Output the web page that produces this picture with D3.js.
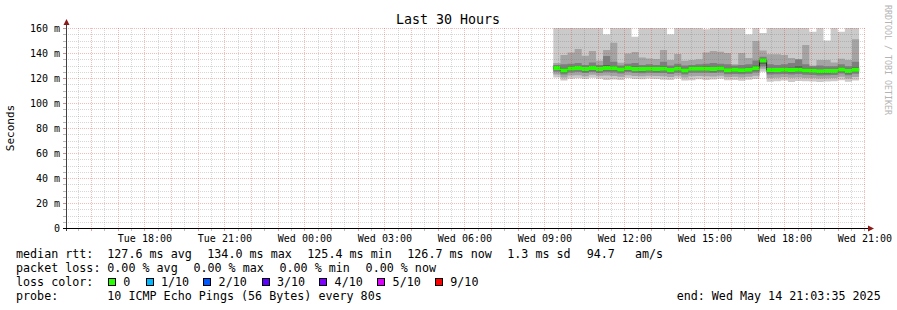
<!DOCTYPE html>
<html>
<head>
<meta charset="utf-8">
<script src="https://cdn.jsdelivr.net/npm/d3@7"></script>
<style>
  body { margin: 0; background: #fff; }
  svg { display: block; }
  text { font-family: "DejaVu Sans Mono", monospace; fill: #000; }
</style>
</head>
<body>
<div id="chart"></div>
<script>
// time window of the graph and the 16 minute bins that hold data
const windowStart = "2025-05-13T15:03:35";
const windowEnd = "2025-05-14T21:03:35";
const binStart = "2025-05-14T09:20:00";
const binMinutes = 16;

// median rtt per bin (ms)
const median = [128.0,126.0,127.6,128.0,127.2,128.0,127.2,128.0,127.8,126.9,128.0,127.3,127.2,127.4,127.2,127.4,126.4,127.4,126.0,127.4,127.4,127.5,127.2,127.6,126.2,126.6,126.2,126.7,127.9,134.0,126.4,126.4,126.6,126.4,126.6,126.0,125.9,125.4,125.6,125.6,126.9,125.6,126.7];

// sorted pings per bin (ms), outer to inner
const ping10 = [165,165,165,165,165,165,165,155,165,165,165,153,165,165,165,165,155,165,165,165,165,159,165,165,165,165,165,155,165,156,165,165,165,165,165,165,157,165,150,165,157,165,165];
const ping9 = [132,138.4,140.5,143.2,137.9,141.6,133.9,142.4,148.3,132.3,139.7,140.8,136.5,135.7,135.3,142.4,134.5,139.2,133.9,134.4,135,140.5,141.6,141,140,131,140,136,149.6,142,139,139,138.5,136,134,146.4,130,134.5,134.5,132.5,135.5,134.5,151];
const ping8 = [130.5,131,131.5,132,130.5,132.5,130.5,137.6,133,130,131.5,132,130.5,131,130.5,133,130,131.5,130,130.5,131,131.5,132,131.5,131,130,130.5,131,134,137,131,130.5,131,132,135,131,129.5,130,129.5,129.5,131,129.5,133];
const ping7 = [129.6,127.8,129.2,129.6,128.9,129.7,128.8,130.2,129.5,128.5,129.6,129.0,128.8,129.0,128.9,129.2,128.1,129.1,127.7,129.0,129.1,129.3,128.9,129.3,127.9,128.2,127.9,128.4,129.8,135.5,128.1,128.0,128.3,128.3,129.5,127.8,127.5,127.1,127.3,127.2,128.6,127.3,128.6];
const ping4 = [126.4,124.3,126.0,126.4,125.5,126.3,125.6,126.2,126.1,125.2,126.3,125.6,125.5,125.7,125.5,125.6,124.8,125.7,124.4,125.8,125.7,125.8,125.5,125.9,124.6,124.9,124.5,125.0,126.1,131.5,124.7,124.8,124.9,124.6,124.8,124.3,124.2,123.7,123.9,124.0,125.2,123.9,125.0];
const ping3 = [125.0,122.8,124.5,124.8,124.0,124.9,124.1,124.6,124.5,123.6,124.8,124.1,123.9,124.2,124.0,124.1,123.3,124.2,122.9,124.2,124.2,124.3,124.0,124.4,123.0,123.3,123.0,123.4,124.5,129.5,122.8,123.0,123.2,122.9,123.2,122.7,122.5,122.1,122.3,122.4,123.6,122.3,123.4];
const ping2 = [122.8,120.5,122.0,122.2,121.5,122.6,121.8,122.0,121.6,121.0,122.3,121.7,121.5,121.9,121.6,121.4,120.8,121.9,120.5,121.5,121.6,121.5,121.3,121.8,120.7,121.0,120.5,121.0,121.9,127.5,120.0,120.3,120.6,120.2,120.5,120.0,120.0,119.6,119.8,120.0,121.0,119.7,120.8];
const ping1 = [120.5,118.0,119.5,119.8,119.2,120.3,119.5,118.5,118.8,118.5,120.0,119.2,119.0,119.6,119.3,118.6,118.4,119.6,118.0,118.3,119.0,118.5,118.8,119.5,118.2,118.5,117.8,118.6,119.3,125.0,117.0,117.5,118.0,116.8,117.6,117.5,117.2,116.8,117.3,117.5,118.2,117.0,118.0];

// axes
const yTicks = [0, 20, 40, 60, 80, 100, 120, 140, 160];
const xTicks = ["2025-05-13T18:00","2025-05-13T21:00","2025-05-14T00:00","2025-05-14T03:00","2025-05-14T06:00","2025-05-14T09:00","2025-05-14T12:00","2025-05-14T15:00","2025-05-14T18:00","2025-05-14T21:00"];

// legend
const rttStats = ["127.6 ms avg", "134.0 ms max", "125.4 ms min", "126.7 ms now", "1.3 ms sd", "94.7", "am/s"];
const lossStats = ["0.00 % avg", "0.00 % max", "0.00 % min", "0.00 % now"];
const lossLabels = ["0", "1/10", "2/10", "3/10", "4/10", "5/10", "9/10"];
const lossColors = ["#26ff00", "#00b8ff", "#0059ff", "#5e00ff", "#7e00ff", "#dd00ff", "#ff0000"];

const width = 897, height = 310;
const plotLeft = 66, plotRight = 866, plotTop = 28, plotBottom = 228;

const svg = d3.select("#chart").append("svg")
  .attr("width", width)
  .attr("height", height);

svg.append("rect").attr("width", width).attr("height", height).attr("fill", "#fff");

const x = d3.scaleTime()
  .domain([new Date(windowStart), new Date(windowEnd)])
  .range([plotLeft, plotRight]);

const y = d3.scaleLinear()
  .domain([0, 160])
  .range([plotBottom, plotTop]);

const t0 = new Date(binStart);
const bins = median.map((m, i) => ({
  t: d3.timeMinute.offset(t0, i * binMinutes),
  med: m,
  p: [ping1[i], ping2[i], ping3[i], ping4[i], m, m, ping7[i], ping8[i], ping9[i], ping10[i]]
}));
// repeat the last bin at its end time so the step reaches the bin edge
const last = bins[bins.length - 1];
const steps = bins.concat([{ t: d3.timeMinute.offset(last.t, binMinutes), med: last.med, p: last.p }]);

svg.append("clipPath").attr("id", "plot")
  .append("rect").attr("x", plotLeft).attr("y", plotTop)
  .attr("width", plotRight - plotLeft).attr("height", plotBottom - plotTop);

const plot = svg.append("g").attr("clip-path", "url(#plot)");

// smoke: pairs of pings, darker towards the middle
const smokeColors = ["#cacaca", "#a4a4a4", "#7e7e7e", "#585858"];
smokeColors.forEach((c, k) => {
  plot.append("path")
    .datum(steps)
    .attr("fill", c)
    .attr("d", d3.area()
      .curve(d3.curveStepAfter)
      .x(d => x(d.t))
      .y0(d => y(d.p[k]))
      .y1(d => y(d.p[9 - k])));
});

// median line and loss coloured band
plot.append("path")
  .datum(steps)
  .attr("fill", "none")
  .attr("stroke", "#202020")
  .attr("stroke-width", 1)
  .attr("d", d3.line().curve(d3.curveStepAfter).x(d => x(d.t)).y(d => y(d.med)));

plot.append("path")
  .datum(steps)
  .attr("fill", lossColors[0])
  .attr("d", d3.area()
    .curve(d3.curveStepAfter)
    .x(d => x(d.t))
    .y0(d => y(d.med) + 2)
    .y1(d => y(d.med) - 2));

// grid on top
const minorY = d3.range(0, 161, 5).filter(v => v % 20 !== 0);
const hours = d3.timeHour.range(new Date(windowStart), new Date(windowEnd));
const halfHours = d3.timeMinute.every(30).range(new Date(windowStart), new Date(windowEnd))
  .filter(d => d.getMinutes() === 30);

const grid = svg.append("g");
const minorColor = "rgba(110,110,110,0.28)";
const majorColor = "rgba(225,40,40,0.32)";

grid.selectAll(".hmin").data(minorY).enter().append("line")
  .attr("x1", plotLeft).attr("x2", plotRight)
  .attr("y1", d => Math.round(y(d)) + 0.5).attr("y2", d => Math.round(y(d)) + 0.5)
  .attr("stroke", minorColor).attr("stroke-dasharray", "1,1");

grid.selectAll(".vmin").data(halfHours).enter().append("line")
  .attr("x1", d => Math.round(x(d)) + 0.5).attr("x2", d => Math.round(x(d)) + 0.5)
  .attr("y1", plotTop).attr("y2", plotBottom)
  .attr("stroke", minorColor).attr("stroke-dasharray", "1,1");

grid.selectAll(".hmaj").data(yTicks.slice(1)).enter().append("line")
  .attr("x1", plotLeft).attr("x2", plotRight)
  .attr("y1", d => Math.round(y(d)) + 0.5).attr("y2", d => Math.round(y(d)) + 0.5)
  .attr("stroke", majorColor).attr("stroke-dasharray", "1,1");

grid.selectAll(".vmaj").data(hours).enter().append("line")
  .attr("x1", d => Math.round(x(d)) + 0.5).attr("x2", d => Math.round(x(d)) + 0.5)
  .attr("y1", plotTop).attr("y2", plotBottom)
  .attr("stroke", majorColor).attr("stroke-dasharray", "1,1");

// small ticks outside the axes
grid.selectAll(".ytick").data(d3.range(0, 161, 5)).enter().append("line")
  .attr("x1", plotLeft - 3).attr("x2", plotLeft)
  .attr("y1", d => Math.round(y(d)) + 0.5).attr("y2", d => Math.round(y(d)) + 0.5)
  .attr("stroke", d => d % 20 === 0 ? "#d09090" : "#b8b8b8");

grid.selectAll(".xtick").data(hours.concat(halfHours)).enter().append("line")
  .attr("x1", d => Math.round(x(d)) + 0.5).attr("x2", d => Math.round(x(d)) + 0.5)
  .attr("y1", plotBottom).attr("y2", plotBottom + 3)
  .attr("stroke", d => d.getMinutes() === 0 ? "#e8a0a0" : "#c0c0c0");

// axes with arrows
const arrow = "#8b1a1a";
svg.append("line").attr("x1", plotLeft + 0.5).attr("x2", plotLeft + 0.5)
  .attr("y1", plotBottom + 3).attr("y2", plotTop - 4).attr("stroke", "#404040");
svg.append("path").attr("fill", arrow)
  .attr("d", `M${plotLeft - 2.5},${plotTop - 3}L${plotLeft + 0.5},${plotTop - 9}L${plotLeft + 3.5},${plotTop - 3}Z`);

svg.append("line").attr("x1", plotLeft - 3).attr("x2", plotRight + 3)
  .attr("y1", plotBottom + 0.5).attr("y2", plotBottom + 0.5).attr("stroke", "#000");
svg.append("path").attr("fill", arrow)
  .attr("d", `M${plotRight + 2},${plotBottom - 2.5}L${plotRight + 8},${plotBottom + 0.5}L${plotRight + 2},${plotBottom + 3.5}Z`);

// axis labels
svg.selectAll(".ylab").data(yTicks).enter().append("text")
  .attr("x", 60).attr("y", d => Math.round(y(d)) + 4)
  .attr("text-anchor", "end").attr("font-size", 10)
  .text(d => d === 0 ? "0" : d + " m");

const fmt = d3.timeFormat("%a %H:%M");
svg.selectAll(".xlab").data(xTicks.map(s => new Date(s))).enter().append("text")
  .attr("x", d => x(d) + 0.5).attr("y", 242)
  .attr("text-anchor", "middle").attr("font-size", 10)
  .text(d => fmt(d));

svg.append("text").attr("x", 448).attr("y", 24)
  .attr("text-anchor", "middle").attr("font-size", 13.3)
  .text("Last 30 Hours");

svg.append("text").attr("transform", "translate(14,128) rotate(-90)")
  .attr("text-anchor", "middle").attr("font-size", 11)
  .text("Seconds");

svg.append("text").attr("transform", "translate(885,5) rotate(90)")
  .attr("font-size", 8.3).style("fill", "#b4b4b4")
  .text("RRDTOOL / TOBI OETIKER");

// legend
const lf = 11.7;
const legend = svg.append("g").attr("font-size", lf);
legend.append("text").attr("x", 16).attr("y", 258).text("median rtt:");
const rttX = [107.3, 207.3, 307.3, 407.3, 507.3, 586.7, 635];
rttStats.forEach((s, i) => legend.append("text").attr("x", rttX[i]).attr("y", 258).text(s));

legend.append("text").attr("x", 16).attr("y", 272).text("packet loss:");
lossStats.forEach((s, i) => legend.append("text").attr("x", 107.3 + i * 86.1).attr("y", 272).text(s));

legend.append("text").attr("x", 16).attr("y", 286).text("loss color:");
const boxX = [108, 145.7, 203.3, 261.7, 319.3, 377.3, 435];
lossLabels.forEach((s, i) => {
  legend.append("rect").attr("x", Math.round(boxX[i]) + 0.5).attr("y", 278.5)
    .attr("width", 7).attr("height", 7)
    .attr("fill", lossColors[i]).attr("stroke", "#000");
  legend.append("text").attr("x", boxX[i] + 15.3).attr("y", 286).text(s);
});

legend.append("text").attr("x", 16).attr("y", 300).text("probe:");
legend.append("text").attr("x", 107.3).attr("y", 300).text("10 ICMP Echo Pings (56 Bytes) every 80s");
legend.append("text").attr("x", 880.7).attr("y", 300).attr("text-anchor", "end").text("end: Wed May 14 21:03:35 2025");
</script>
</body>
</html>
